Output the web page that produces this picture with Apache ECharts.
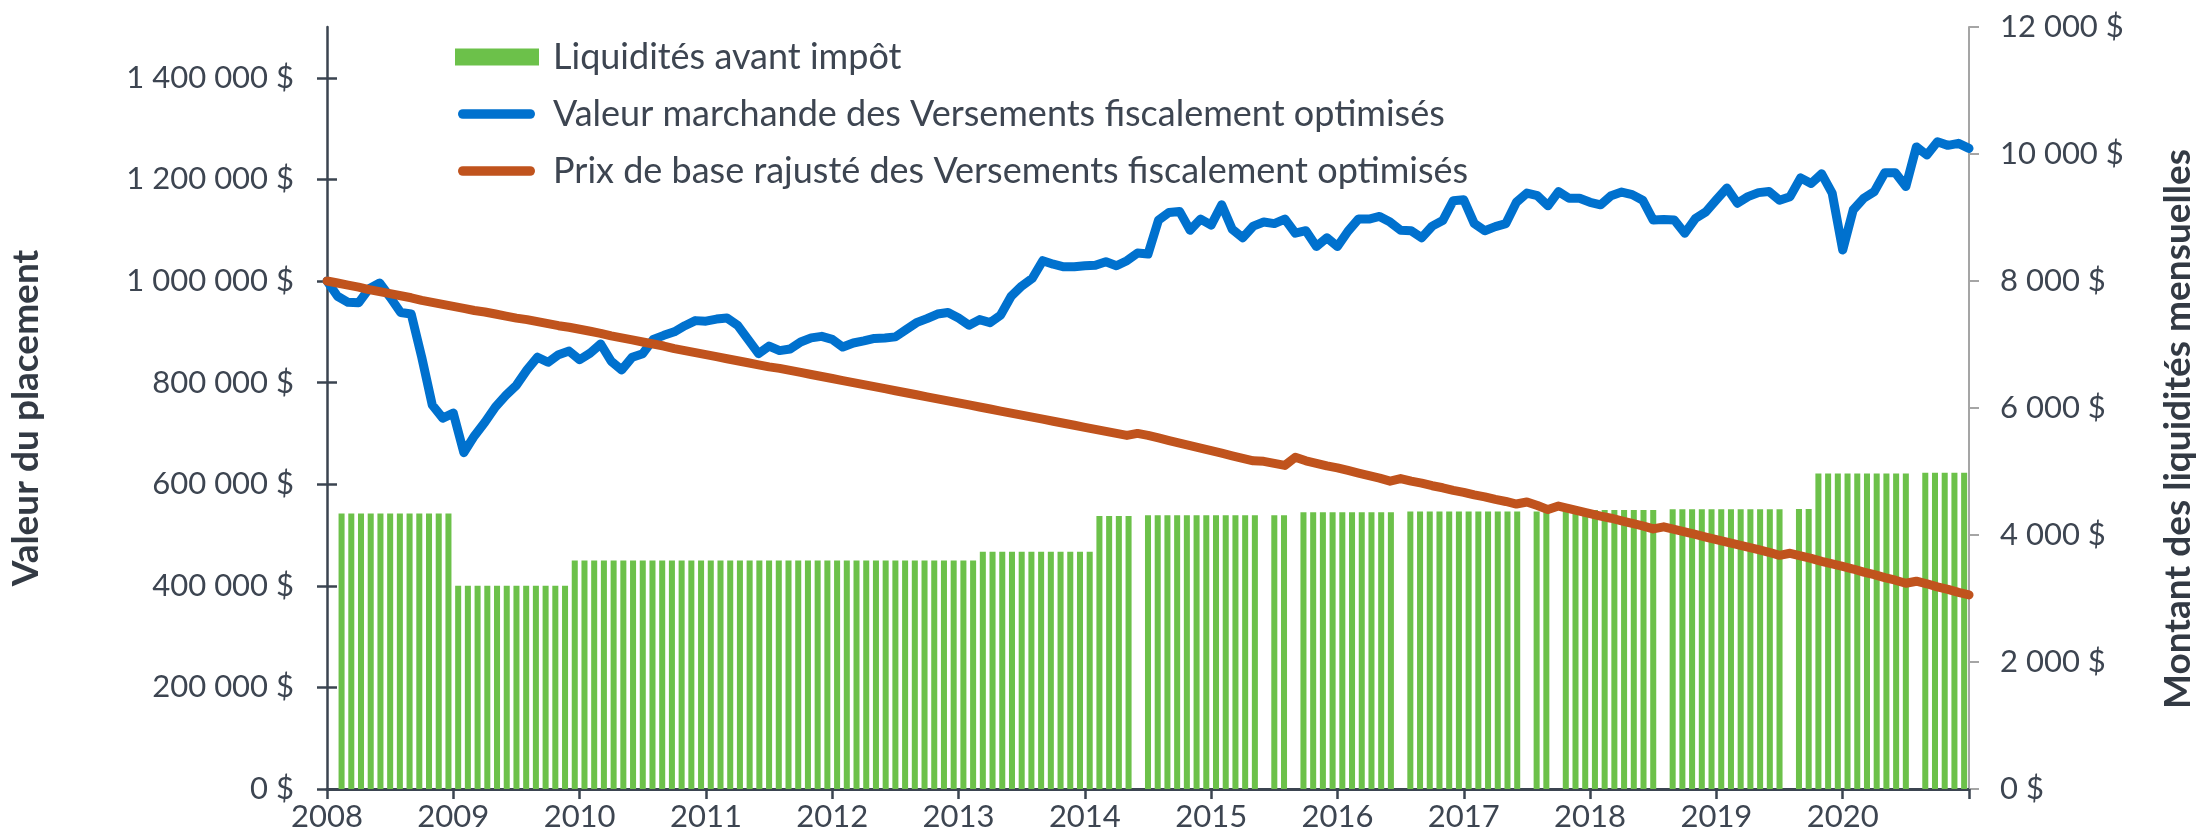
<!DOCTYPE html>
<html lang="fr">
<head>
    <meta charset="UTF-8">
    <title>Versements fiscalement optimisés</title>
    <style>
        html, body { margin: 0; padding: 0; background: #fff; }
        #chart { width: 2205px; height: 834px; }
    </style>
</head>
<body>
<div id="chart"></div>

<script src="https://cdn.jsdelivr.net/npm/echarts@6/dist/echarts.min.js"></script>
<script>
    // etiquettes de l'axe horizontal (un repere tous les 12 mois)
    var annees = ['2008', '2009', '2010', '2011', '2012', '2013', '2014', '2015', '2016', '2017', '2018', '2019', '2020', ''];

    // valeur marchande mensuelle (157 points, janv. 2008 -> fin 2020)
    var valeurMarchande = [
        1000000, 970000, 958000, 957000, 985000, 996000, 968000, 938000, 935000, 850000, 756000, 730000,
        740000, 662000, 695000, 722000, 752000, 775000, 795000, 825000, 850000, 840000, 855000, 862000,
        845000, 858000, 876000, 842000, 825000, 850000, 857000, 885000, 893000, 900000, 912000, 922000,
        921000, 925000, 927000, 913000, 885000, 857000, 872000, 863000, 866000, 880000, 888000, 891000,
        885000, 870000, 878000, 882000, 887000, 888000, 890000, 904000, 918000, 926000, 935000, 938000,
        927000, 913000, 924000, 918000, 933000, 970000, 990000, 1005000, 1040000, 1033000, 1028000, 1028000,
        1030000, 1031000, 1038000, 1030000, 1040000, 1055000, 1053000, 1120000, 1135000, 1137000, 1100000, 1122000,
        1110000, 1150000, 1102000, 1085000, 1108000, 1116000, 1113000, 1122000, 1094000, 1099000, 1068000, 1085000,
        1068000, 1098000, 1122000, 1122000, 1127000, 1116000, 1100000, 1099000, 1085000, 1108000, 1119000, 1158000,
        1160000, 1113000, 1099000, 1107000, 1113000, 1155000, 1173000, 1168000, 1148000, 1176000, 1163000, 1163000,
        1155000, 1150000, 1168000, 1175000, 1170000, 1159000, 1120000, 1121000, 1120000, 1094000, 1123000, 1136000,
        1160000, 1183000, 1153000, 1166000, 1174000, 1176000, 1159000, 1166000, 1203000, 1192000, 1211000, 1173000,
        1061000, 1140000, 1163000, 1176000, 1213000, 1213000, 1186000, 1264000, 1248000, 1274000, 1267000, 1271000,
        1261000
    ];

    // prix de base rajusté mensuel (157 points)
    var prixBase = [
        1000000, 996000, 992000, 988000, 983000, 979000, 975000, 971000, 967000, 962000, 958000, 954000,
        950000, 946000, 942000, 939000, 935000, 931000, 927000, 924000, 920000, 916000, 912000, 909000,
        905000, 901000, 897000, 892000, 888000, 884000, 880000, 876000, 872000, 867000, 863000, 859000,
        855000, 851000, 847000, 843000, 839000, 835000, 831000, 828000, 824000, 820000, 816000, 812000,
        808000, 804000, 800000, 796000, 792000, 788000, 784000, 780000, 776000, 772000, 768000, 764000,
        760000, 756000, 752000, 748000, 744000, 740000, 736000, 732000, 728000, 724000, 720000, 716000,
        712000, 708000, 704000, 700000, 696000, 700000, 696000, 691000, 686000, 681000, 676000, 671000,
        666000, 661000, 656000, 651000, 646000, 645000, 641000, 637000, 653000, 646000, 641000, 636000,
        632000, 627000, 622000, 617000, 612000, 606000, 611000, 606000, 602000, 597000, 593000, 588000,
        584000, 579000, 575000, 570000, 566000, 561000, 565000, 558000, 550000, 557000, 552000, 547000,
        542000, 537000, 533000, 528000, 523000, 518000, 512000, 516000, 511000, 506000, 501000, 496000,
        491000, 486000, 481000, 476000, 471000, 466000, 460000, 464000, 459000, 454000, 448000, 443000,
        438000, 433000, 427000, 422000, 416000, 411000, 405000, 409000, 404000, 398000, 393000, 387000,
        382000
    ];

    // liquidités mensuelles avant impôt (169 cases, la premiere vide, null = pas de versement)
    var liquidites = [
        null,
        4340, 4340, 4340, 4340, 4340, 4340, 4340, 4340, 4340, 4340, 4340, 4340,
        3200, 3200, 3200, 3200, 3200, 3200, 3200, 3200, 3200, 3200, 3200, 3200,
        3600, 3600, 3600, 3600, 3600, 3600, 3600, 3600, 3600, 3600, 3600, 3600,
        3600, 3600, 3600, 3600, 3600, 3600, 3600, 3600, 3600, 3600, 3600, 3600,
        3600, 3600, 3600, 3600, 3600, 3600, 3600, 3600, 3600, 3600, 3600, 3600,
        3600, 3600, 3600, 3600, 3600, 3600, 3735, 3735, 3735, 3735, 3735, 3735,
        3735, 3735, 3735, 3735, 3735, 3735, 4300, 4300, 4300, 4300, null, 4310,
        4310, 4310, 4310, 4310, 4310, 4310, 4310, 4310, 4310, 4310, 4310, null,
        4310, 4310, null, 4360, 4360, 4360, 4360, 4360, 4360, 4360, 4360, 4360,
        4360, null, 4370, 4370, 4370, 4370, 4370, 4370, 4370, 4370, 4370, 4370,
        4370, 4370, null, 4370, 4370, null, 4395, 4395, 4395, 4395, 4395, 4395,
        4395, 4395, 4395, 4395, null, 4405, 4405, 4405, 4405, 4405, 4405, 4405,
        4405, 4405, 4405, 4405, 4405, null, 4410, 4410, 4970, 4970, 4970, 4970,
        4970, 4970, 4970, 4970, 4970, 4970, null, 4980, 4980, 4980, 4980, 4980
    ];

    var ticksGauche = [0, 200000, 400000, 600000, 800000, 1000000, 1200000, 1400000];

    var police = 'Lato';
    var texte = '#3d4551';
    var pilule = 'path://M5,0 L75,0 A5,5 0 0 1 75,10 L5,10 A5,5 0 0 1 5,0 Z';

    function dollars(v) {
        return String(v).replace(/\B(?=(\d{3})+(?!\d))/g, ' ') + ' $';
    }

    var myChart = echarts.init(document.getElementById('chart'));

    var option = {
        animation: false,
        grid: { left: 326, right: 231, top: 27, bottom: 45 },
        legend: [
            {
                orient: 'vertical',
                left: 450,
                top: 34,
                icon: 'rect',
                itemWidth: 84,
                itemHeight: 17,
                data: ['Liquidités avant impôt'],
                textStyle: { fontFamily: police, fontSize: 36, color: texte, lineHeight: 36, padding: [0, 0, 0, 9] }
            },
            {
                orient: 'vertical',
                left: 453,
                top: 91,
                itemGap: 21,
                itemWidth: 77,
                itemHeight: 11,
                data: [
                    { name: 'Valeur marchande des Versements fiscalement optimisés', icon: pilule },
                    { name: 'Prix de base rajusté des Versements fiscalement optimisés', icon: pilule }
                ],
                textStyle: { fontFamily: police, fontSize: 36, color: texte, lineHeight: 36, padding: [0, 0, 0, 13] }
            }
        ],
        xAxis: [
            {
                type: 'value',
                min: 0,
                max: 156,
                interval: 12,
                splitLine: { show: false },
                axisLine: { lineStyle: { color: '#3b4450', width: 3 } },
                axisTick: { show: true, length: 10, lineStyle: { color: '#3b4450', width: 2.5 } },
                axisLabel: {
                    margin: 12,
                    fontFamily: police,
                    fontSize: 31,
                    color: texte,
                    formatter: function (v) { return annees[v / 12]; }
                }
            },
            {
                type: 'category',
                show: false,
                boundaryGap: true,
                data: liquidites.map(function (v, i) { return i; })
            }
        ],
        yAxis: [
            {
                type: 'value',
                position: 'left',
                min: 0,
                max: 1500000,
                interval: 100000,
                name: 'Valeur du placement',
                nameLocation: 'middle',
                nameRotate: 90,
                nameGap: 282,
                nameTextStyle: { fontFamily: police, fontWeight: 'bold', fontSize: 37, color: '#333a44', padding: [0, 20, 0, 0] },
                splitLine: { show: false },
                axisLine: { show: true, lineStyle: { color: '#3b4450', width: 2.5 } },
                axisTick: { show: true, length: 10, customValues: ticksGauche, lineStyle: { color: '#3b4450', width: 2.5 } },
                axisLabel: {
                    margin: 33,
                    fontFamily: police,
                    fontSize: 31,
                    color: texte,
                    customValues: ticksGauche,
                    formatter: dollars
                }
            },
            {
                type: 'value',
                position: 'right',
                min: 0,
                max: 12000,
                interval: 2000,
                name: 'Montant des liquidités mensuelles',
                nameLocation: 'middle',
                nameRotate: 90,
                nameGap: 191,
                nameTextStyle: { fontFamily: police, fontWeight: 'bold', fontSize: 37, color: '#333a44', padding: [0, 42, 0, 0] },
                splitLine: { show: false },
                axisLine: { show: true, lineStyle: { color: '#a5a5a5', width: 2 } },
                axisTick: { show: true, length: 10, lineStyle: { color: '#a5a5a5', width: 2 } },
                axisLabel: { margin: 31, fontFamily: police, fontSize: 31, color: texte, formatter: dollars }
            },
            {
                // ticks vers l'intérieur pour que les repères gauches traversent l'axe
                type: 'value',
                position: 'left',
                min: 0,
                max: 1500000,
                interval: 100000,
                splitLine: { show: false },
                axisLine: { show: false },
                axisLabel: { show: false },
                axisTick: { show: true, inside: true, length: 10, customValues: ticksGauche, lineStyle: { color: '#3b4450', width: 2.5 } }
            }
        ],
        series: [
            {
                name: 'Liquidités avant impôt',
                type: 'bar',
                xAxisIndex: 1,
                yAxisIndex: 1,
                barCategoryGap: '38%',
                itemStyle: { color: '#6cc14a' },
                data: liquidites
            },
            {
                name: 'Valeur marchande des Versements fiscalement optimisés',
                type: 'line',
                xAxisIndex: 0,
                yAxisIndex: 0,
                symbol: 'none',
                itemStyle: { color: '#0071ce' },
                lineStyle: { color: '#0071ce', width: 9, cap: 'round', join: 'round' },
                data: valeurMarchande.map(function (v, i) { return [i, v]; })
            },
            {
                name: 'Prix de base rajusté des Versements fiscalement optimisés',
                type: 'line',
                xAxisIndex: 0,
                yAxisIndex: 0,
                symbol: 'none',
                itemStyle: { color: '#c0531d' },
                lineStyle: { color: '#c0531d', width: 9, cap: 'round', join: 'round' },
                data: prixBase.map(function (v, i) { return [i, v]; })
            }
        ]
    };

    myChart.setOption(option);
</script>
</body>
</html>
